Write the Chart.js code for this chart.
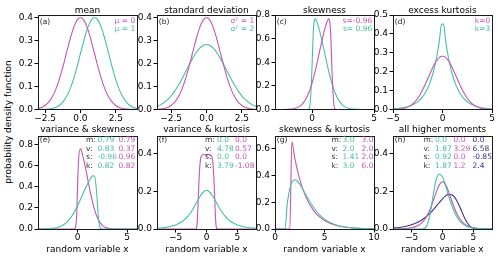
<!DOCTYPE html>
<html>
<head>
<meta charset="utf-8">
<script src="https://cdn.jsdelivr.net/npm/chart.js@4.4.0/dist/chart.umd.min.js"></script>
<style>
  body { margin: 0; width: 500px; height: 256px; overflow: hidden; position: relative; background: #fff; font-family: 'DejaVu Sans'; }
  canvas { position: absolute; }
  #ylab { position: absolute; left: -92px; top: 115px; width: 200px; height: 14px; line-height: 14px;
          text-align: center; font-size: 9px; color: #000; transform: rotate(-90deg); }
</style>
</head>
<body>
<div id="ylab">probability density function</div>
<script>
'use strict';
// ---------------------- Colours -----------------
const MAGENTA = '#c653b6';
const TEAL = '#45c0a3';
const BLUE = '#3c2f96';

// ---------------------- Data: (a) mean -----------------
const meanX = [-3, -2.75, -2.5, -2.25, -2, -1.75, -1.5, -1.25, -1, -0.75, -0.5, -0.25, 0, 0.25, 0.5, 0.75, 1, 1.25, 1.5, 1.75, 2, 2.25, 2.5, 2.75, 3, 3.25, 3.5, 3.75, 4];
const meanMu0 = [0.0044, 0.0091, 0.0175, 0.0317, 0.054, 0.0863, 0.1295, 0.1826, 0.242, 0.3011, 0.3521, 0.3867, 0.3989, 0.3867, 0.3521, 0.3011, 0.242, 0.1826, 0.1295, 0.0863, 0.054, 0.0317, 0.0175, 0.0091, 0.0044, 0.002, 0.0009, 0.0004, 0.0001];
const meanMu1 = [0.0001, 0.0004, 0.0009, 0.002, 0.0044, 0.0091, 0.0175, 0.0317, 0.054, 0.0863, 0.1295, 0.1826, 0.242, 0.3011, 0.3521, 0.3867, 0.3989, 0.3867, 0.3521, 0.3011, 0.242, 0.1826, 0.1295, 0.0863, 0.054, 0.0317, 0.0175, 0.0091, 0.0044];

// ---------------------- Data: (b) standard deviation -----------------
const stdX = [-3.5, -3.25, -3, -2.75, -2.5, -2.25, -2, -1.75, -1.5, -1.25, -1, -0.75, -0.5, -0.25, 0, 0.25, 0.5, 0.75, 1, 1.25, 1.5, 1.75, 2, 2.25, 2.5, 2.75, 3, 3.25, 3.5];
const stdVar1 = [0.0009, 0.002, 0.0044, 0.0091, 0.0175, 0.0317, 0.054, 0.0863, 0.1295, 0.1826, 0.242, 0.3011, 0.3521, 0.3867, 0.3989, 0.3867, 0.3521, 0.3011, 0.242, 0.1826, 0.1295, 0.0863, 0.054, 0.0317, 0.0175, 0.0091, 0.0044, 0.002, 0.0009];
const stdVar2 = [0.0132, 0.0201, 0.0297, 0.0426, 0.0591, 0.0796, 0.1038, 0.1312, 0.1607, 0.1909, 0.2197, 0.2451, 0.265, 0.2777, 0.2821, 0.2777, 0.265, 0.2451, 0.2197, 0.1909, 0.1607, 0.1312, 0.1038, 0.0796, 0.0591, 0.0426, 0.0297, 0.0201, 0.0132];

// ---------------------- Data: (c) skewness -----------------
const skewPosX = [-3, -0.3878, -0.2245, -0.0612, 0.102, 0.2653, 0.4286, 0.5918, 0.7551, 0.9184, 1.0816, 1.2449, 1.4082, 1.5714, 1.7347, 1.898, 2.0612, 2.2245, 2.3878, 2.551, 2.7143, 2.8776, 3.0408, 3.2041, 3.3673, 3.5306, 3.6939, 4, 5];
const skewPos = [0, 0, 0.0097, 0.2153, 0.6716, 0.7669, 0.7278, 0.6694, 0.6, 0.5233, 0.4445, 0.3677, 0.296, 0.2321, 0.1772, 0.1317, 0.0953, 0.0672, 0.0461, 0.0308, 0.02, 0.0127, 0.0078, 0.0047, 0.0028, 0.0016, 0.0009, 0.0002, 0];
const skewNegX = [-3, -2.413, -2.107, -1.943, -1.78, -1.617, -1.454, -1.29, -1.127, -0.964, -0.801, -0.637, -0.474, -0.311, -0.148, 0.016, 0.179, 0.342, 0.506, 0.669, 0.832, 0.995, 1.159, 1.322, 1.485, 1.648, 1.812, 1.975, 5];
const skewNeg = [0, 0.0002, 0.0009, 0.0016, 0.0028, 0.0047, 0.0078, 0.0127, 0.02, 0.0308, 0.0461, 0.0672, 0.0953, 0.1317, 0.1772, 0.2321, 0.296, 0.3677, 0.4445, 0.5233, 0.6, 0.6694, 0.7278, 0.7669, 0.6716, 0.2153, 0.0097, 0, 0];

// ---------------------- Data: (d) excess kurtosis -----------------
const kurtX = [-5, -4.592, -4.184, -3.776, -3.367, -2.959, -2.551, -2.143, -1.735, -1.327, -0.918, -0.714, -0.51, -0.306, -0.102, 0.102, 0.306, 0.51, 0.714, 0.918, 1.327, 1.735, 2.143, 2.551, 2.959, 3.367, 3.776, 4.184, 4.592, 5];
const kurt0 = [0.0005, 0.0014, 0.0036, 0.008, 0.0166, 0.0316, 0.0554, 0.0895, 0.1331, 0.1817, 0.2285, 0.2484, 0.2643, 0.2756, 0.2814, 0.2814, 0.2756, 0.2643, 0.2484, 0.2285, 0.1817, 0.1331, 0.0895, 0.0554, 0.0316, 0.0166, 0.008, 0.0036, 0.0014, 0.0005];
const kurt3 = [0.0034, 0.0051, 0.0076, 0.0115, 0.0172, 0.0259, 0.039, 0.0587, 0.0882, 0.1327, 0.1997, 0.2449, 0.3002, 0.3682, 0.4515, 0.4515, 0.3682, 0.3002, 0.2449, 0.1997, 0.1327, 0.0882, 0.0587, 0.039, 0.0259, 0.0172, 0.0115, 0.0076, 0.0051, 0.0034];

// ---------------------- Data: (e) variance & skewness -----------------
const vsTealX = [-4, -3.5918, -3.1837, -2.7755, -2.3673, -1.9592, -1.551, -1.3469, -1.1429, -0.9388, -0.7347, -0.5306, -0.3265, -0.1224, 0.0816, 0.2857, 0.4898, 0.6939, 0.898, 1.102, 1.3061, 1.5102, 1.7143, 1.9184, 2.1224, 2.3265, 2.5306, 6];
const vsTeal = [0.0002, 0.0005, 0.0014, 0.0035, 0.008, 0.0169, 0.0334, 0.0455, 0.061, 0.0801, 0.1035, 0.1311, 0.1631, 0.1991, 0.2388, 0.281, 0.3246, 0.3682, 0.4099, 0.4481, 0.4807, 0.5058, 0.5038, 0.3517, 0.0916, 0.0055, 0, 0];
const vsMagX = [-4, -0.3265, -0.1224, 0.0816, 0.2857, 0.4898, 0.6939, 0.898, 1.102, 1.3061, 1.5102, 1.7143, 1.9184, 2.1224, 2.3265, 2.5306, 2.7347, 2.9388, 3.1429, 3.3469, 3.551, 3.7551, 3.9592, 6];
const vsMag = [0, 0, 0.0875, 0.6304, 0.7642, 0.7076, 0.6271, 0.5331, 0.4347, 0.34, 0.2551, 0.1836, 0.1267, 0.0839, 0.0533, 0.0325, 0.019, 0.0106, 0.0057, 0.0029, 0.0015, 0.0007, 0.0003, 0];
const vsTable = { teal: ['0.79', '0.83', '-0.96', '0.82'], magenta: ['0.79', '0.37', '0.96', '0.82'] };

// ---------------------- Data: (f) variance & kurtosis -----------------
const vkTealX = [-8, -7, -6, -5, -4, -3.5, -3, -2.5, -2, -1.5, -1, -0.5, 0, 0.5, 1, 1.5, 2, 2.5, 3, 3.5, 4, 5, 6, 7, 8];
const vkTeal = [0.004, 0.007, 0.012, 0.021, 0.038, 0.051, 0.068, 0.09, 0.117, 0.147, 0.175, 0.196, 0.205, 0.196, 0.175, 0.147, 0.117, 0.09, 0.068, 0.051, 0.038, 0.021, 0.012, 0.007, 0.004];
const vkMagX = [-8, -2, -1.7, -1.6, -1.5, -1.4, -1.3, -1.2, -1.1, -1, -0.9, -0.8, -0.6, -0.4, 0, 0.4, 0.6, 0.8, 0.9, 1, 1.1, 1.2, 1.3, 1.4, 1.5, 1.6, 1.7, 2, 8];
const vkMag = [0, 0, 0.0006, 0.0073, 0.0366, 0.1002, 0.1842, 0.2646, 0.3233, 0.3595, 0.379, 0.3883, 0.3938, 0.3944, 0.3944, 0.3944, 0.3938, 0.3883, 0.379, 0.3595, 0.3233, 0.2646, 0.1842, 0.1002, 0.0366, 0.0073, 0.0006, 0, 0];
const vkTable = { teal: ['0.0', '4.78', '0.0', '3.79'], magenta: ['0.0', '0.57', '0.0', '-1.08'] };

// ---------------------- Data: (g) skewness & kurtosis -----------------
const skTealX = [0, 1, 1.25, 1.5, 1.75, 2, 2.25, 2.5, 3, 3.5, 4, 4.5, 5, 5.5, 6, 6.5, 7, 8, 9, 10];
const skTeal = [0, 0, 0.1947, 0.3033, 0.3543, 0.3679, 0.3581, 0.3347, 0.2707, 0.2052, 0.1494, 0.1057, 0.0733, 0.05, 0.0337, 0.0225, 0.0149, 0.0064, 0.0027, 0.0011];
const skMagX = [0, 1.5, 1.7, 2, 2.5, 3, 3.5, 4, 4.5, 5, 5.5, 6, 6.5, 7, 8, 9, 10];
const skMag = [0, 0, 0.6524, 0.5276, 0.3705, 0.2601, 0.1826, 0.1282, 0.0901, 0.0632, 0.0444, 0.0312, 0.0219, 0.0154, 0.0076, 0.0037, 0.0018];
const skTable = { teal: ['3.0', '2.0', '1.41', '3.0'], magenta: ['3.0', '2.0', '2.0', '6.0'] };

// ---------------------- Data: (h) all higher moments -----------------
const hmTealX = [-8, -3.5, -3, -2.5, -2, -1.5, -1, -0.5, 0, 0.5, 1, 1.5, 2, 2.5, 3, 4, 5, 6, 8];
const hmTeal = [0, 0, 0.002, 0.02, 0.08, 0.18, 0.265, 0.29, 0.275, 0.23, 0.175, 0.125, 0.085, 0.055, 0.035, 0.013, 0.005, 0.002, 0];
const hmMagX = [-8, -7, -6, -5, -4, -3.5, -3, -2.5, -2, -1.5, -1, -0.5, 0, 0.5, 1, 1.5, 2, 2.5, 3, 3.5, 4, 5, 6, 7, 8];
const hmMag = [0.0003, 0.0009, 0.0025, 0.0066, 0.0177, 0.0285, 0.0452, 0.0701, 0.105, 0.1491, 0.1966, 0.235, 0.25, 0.235, 0.1966, 0.1491, 0.105, 0.0701, 0.0452, 0.0285, 0.0177, 0.0066, 0.0025, 0.0009, 0.0003];
const hmBlueX = [-8, -7, -6, -5, -4, -3, -2, -1.5, -1, -0.5, 0, 0.5, 1, 1.5, 2, 2.5, 3, 3.5, 4, 4.5, 5, 5.5, 6, 7, 8];
const hmBlue = [0.0051, 0.0083, 0.0136, 0.022, 0.0352, 0.0553, 0.084, 0.1017, 0.1212, 0.1412, 0.1601, 0.1753, 0.1834, 0.1811, 0.1659, 0.1381, 0.1016, 0.0639, 0.0328, 0.0129, 0.0037, 0.0007, 0.0001, 0, 0];
const hmTable = { teal: ['0.0', '1.87', '0.92', '1.87'], magenta: ['0.0', '3.29', '0.0', '1.2'], blue: ['0.0', '6.58', '-0.85', '2.4'] };

const momentLabels = ['m:', 'v:', 's:', 'k:'];

// ---------------------- Tick labels -----------------
const ticksPm25 = [-2.5, 0, 2.5];
const labelsPm25 = ['\u22122.5', '0.0', '2.5'];
const ticks05 = [0, 5];
const labels05 = ['0', '5'];
const ticksPm5 = [-5, 0, 5];
const labelsPm5 = ['\u22125', '0', '5'];
const ticks010 = [0, 5, 10];
const labels010 = ['0', '5', '10'];
const yTicksTenth4 = [0, 0.1, 0.2, 0.3, 0.4];
const yLabelsTenth4 = ['0.0', '0.1', '0.2', '0.3', '0.4'];
const yTicksTenth5 = [0, 0.1, 0.2, 0.3, 0.4, 0.5];
const yLabelsTenth5 = ['0.0', '0.1', '0.2', '0.3', '0.4', '0.5'];
const yTicksFifth8 = [0, 0.2, 0.4, 0.6, 0.8];
const yLabelsFifth8 = ['0.0', '0.2', '0.4', '0.6', '0.8'];
const yTicksFifth6 = [0, 0.2, 0.4, 0.6];
const yLabelsFifth6 = ['0.0', '0.2', '0.4', '0.6'];
const yTicksFifth4 = [0, 0.2, 0.4];
const yLabelsFifth4 = ['0.0', '0.2', '0.4'];

// ---------------------- Layout -----------------
const FONT = 'DejaVu Sans';
const Y_AXIS_W = 36;
const PLOT_W = 99;
const PAD_RIGHT = 8;
const TOP_ROW = { canvasTop: 0, padTop: 15, h: 94.5, canvasH: 137, titleDy: -2.5, letterDy: 7 };
const BOTTOM_ROW = { canvasTop: 121, padTop: 15.5, h: 92.5, canvasH: 135, titleDy: -5, letterDy: 4 };
const decor = {};

function line(xs, ys, color) {
  return { xs: xs, ys: ys, color: color };
}

const panels = [
  { id: 'a', left: 38, row: TOP_ROW, xMin: -3, xMax: 4, yMax: 0.41, xt: ticksPm25, xl: labelsPm25, yt: yTicksTenth4, yl: yLabelsTenth4,
    title: 'mean', letter: '(a)', legend: [['\u03bc = 0', MAGENTA], ['\u03bc = 1', TEAL]],
    lines: [line(meanX, meanMu0, MAGENTA), line(meanX, meanMu1, TEAL)] },
  { id: 'b', left: 157, row: TOP_ROW, xMin: -3.5, xMax: 3.5, yMax: 0.41, xt: ticksPm25, xl: labelsPm25, yt: yTicksTenth4, yl: yLabelsTenth4,
    title: 'standard deviation', letter: '(b)', legend: [['\u03c3\u00b2 = 1', MAGENTA], ['\u03c3\u00b2 = 2', TEAL]],
    lines: [line(stdX, stdVar1, MAGENTA), line(stdX, stdVar2, TEAL)] },
  { id: 'c', left: 275, row: TOP_ROW, xMin: -3, xMax: 5, yMax: 0.8, xt: ticks05, xl: labels05, yt: yTicksFifth8, yl: yLabelsFifth8,
    title: 'skewness', letter: '(c)', legend: [['s=-0.96', MAGENTA], ['s= 0.96', TEAL]],
    lines: [line(skewNegX, skewNeg, MAGENTA), line(skewPosX, skewPos, TEAL)] },
  { id: 'd', left: 393, row: TOP_ROW, xMin: -5, xMax: 5, yMax: 0.5, xt: ticksPm5, xl: labelsPm5, yt: yTicksTenth5, yl: yLabelsTenth5,
    title: 'excess kurtosis', letter: '(d)', legend: [['k=0', MAGENTA], ['k=3', TEAL]],
    lines: [line(kurtX, kurt0, MAGENTA), line(kurtX, kurt3, TEAL)] },
  { id: 'e', left: 38, row: BOTTOM_ROW, xMin: -4, xMax: 6, yMax: 0.88, xt: ticks05, xl: labels05, yt: yTicksFifth8, yl: yLabelsFifth8,
    title: 'variance & skewness', letter: '(e)', xlabel: true,
    table: { labelX: 48, cols: [[59.5, TEAL, vsTable.teal], [80.5, MAGENTA, vsTable.magenta]] },
    lines: [line(vsTealX, vsTeal, TEAL), line(vsMagX, vsMag, MAGENTA)] },
  { id: 'f', left: 157, row: BOTTOM_ROW, xMin: -8, xMax: 8, yMax: 0.49, xt: ticksPm5, xl: labelsPm5, yt: yTicksFifth4, yl: yLabelsFifth4,
    title: 'variance & kurtosis', letter: '(f)', xlabel: true,
    table: { labelX: 48, cols: [[60, TEAL, vkTable.teal], [78, MAGENTA, vkTable.magenta]] },
    lines: [line(vkTealX, vkTeal, TEAL), line(vkMagX, vkMag, MAGENTA)] },
  { id: 'g', left: 275, row: BOTTOM_ROW, xMin: 0, xMax: 10, yMax: 0.69, xt: ticks010, xl: labels010, yt: yTicksFifth6, yl: yLabelsFifth6,
    title: 'skewness & kurtosis', letter: '(g)', xlabel: true,
    table: { labelX: 56.5, cols: [[67.5, TEAL, skTable.teal], [86.5, MAGENTA, skTable.magenta]] },
    lines: [line(skTealX, skTeal, TEAL), line(skMagX, skMag, MAGENTA)] },
  { id: 'h', left: 393, row: BOTTOM_ROW, xMin: -8, xMax: 8, yMax: 0.49, xt: ticksPm5, xl: labelsPm5, yt: yTicksFifth4, yl: yLabelsFifth4,
    title: 'all higher moments', letter: '(h)', xlabel: true,
    table: { labelX: 30.5, cols: [[42, TEAL, hmTable.teal], [60.5, MAGENTA, hmTable.magenta], [79.5, BLUE, hmTable.blue]] },
    lines: [line(hmTealX, hmTeal, TEAL), line(hmMagX, hmMag, MAGENTA), line(hmBlueX, hmBlue, BLUE)] }
];

// ---------------------- Plugin: frame and texts -----------------
const decorPlugin = {
  id: 'decor',
  afterDraw(chart) {
    const p = decor[chart.canvas.id];
    const ctx = chart.ctx;
    const a = chart.chartArea;
    ctx.save();
    ctx.strokeStyle = '#1a1a1a';
    ctx.lineWidth = 1;
    const l = Math.floor(a.left) + 0.5, t = Math.floor(a.top) + 0.5;
    const r = Math.floor(a.right) + 0.5, b = Math.floor(a.bottom) + 0.5;
    ctx.strokeRect(l, t, r - l, b - t);

    ctx.fillStyle = '#000';
    ctx.font = '9px "' + FONT + '"';
    ctx.textAlign = 'center';
    ctx.textBaseline = 'alphabetic';
    ctx.fillText(p.title, (a.left + a.right) / 2, a.top + p.row.titleDy);
    if (p.xlabel) {
      ctx.fillText('random variable x', (a.left + a.right) / 2, a.bottom + 22.5);
    }

    ctx.font = '7.5px "' + FONT + '"';
    ctx.textBaseline = 'middle';
    ctx.textAlign = 'left';
    ctx.fillStyle = '#222';
    ctx.fillText(p.letter, a.left + 1.8, a.top + p.row.letterDy);

    if (p.legend) {
      ctx.textAlign = 'right';
      p.legend.forEach(function (item, i) {
        ctx.fillStyle = item[1];
        ctx.fillText(item[0], a.right - 1.8, a.top + 6.5 + i * 7.6);
      });
    }
    if (p.table) {
      ctx.textAlign = 'left';
      for (let i = 0; i < momentLabels.length; i++) {
        const y = a.top + 3.8 + i * 8.5;
        ctx.fillStyle = '#333';
        ctx.fillText(momentLabels[i], a.left + p.table.labelX, y);
        for (const col of p.table.cols) {
          ctx.fillStyle = col[1];
          ctx.fillText(col[2][i], a.left + col[0], y);
        }
      }
    }
    ctx.restore();
  }
};

// ---------------------- Build charts -----------------
function zip(xs, ys) {
  const out = [];
  for (let i = 0; i < xs.length; i++) {
    out.push({ x: xs[i], y: ys[i] });
  }
  return out;
}

function axis(min, max, ticks, labels, isX, size) {
  return {
    type: 'linear',
    min: min,
    max: max,
    afterFit: function (scale) {
      if (isX) { scale.height = size; } else { scale.width = size; }
    },
    afterBuildTicks: function (scale) {
      scale.ticks = ticks.map(v => ({ value: v }));
    },
    ticks: {
      autoSkip: false,
      maxRotation: 0,
      padding: isX ? 0 : 1.5,
      color: '#000',
      font: { family: FONT, size: 9 },
      callback: function (value) {
        const idx = ticks.indexOf(value);
        return idx >= 0 ? labels[idx] : '';
      }
    },
    grid: { drawOnChartArea: false, drawTicks: true, tickLength: 3.5, tickColor: '#000', tickWidth: 1 },
    border: { display: false }
  };
}

function makePanel(p) {
  const canvas = document.createElement('canvas');
  canvas.id = 'panel' + p.id;
  canvas.width = Y_AXIS_W + PLOT_W + PAD_RIGHT;
  canvas.height = p.row.canvasH;
  canvas.style.left = (p.left - Y_AXIS_W) + 'px';
  canvas.style.top = p.row.canvasTop + 'px';
  document.body.appendChild(canvas);
  decor[canvas.id] = p;
  const xAxisH = p.row.canvasH - p.row.padTop - p.row.h;
  new Chart(canvas.getContext('2d'), {
    type: 'line',
    data: {
      datasets: p.lines.map(l => ({
        data: zip(l.xs, l.ys),
        borderColor: l.color,
        borderWidth: 1.1,
        pointRadius: 0,
        fill: false,
        cubicInterpolationMode: 'monotone'
      }))
    },
    options: {
      responsive: false,
      animation: false,
      devicePixelRatio: 1,
      layout: { padding: { top: p.row.padTop, right: PAD_RIGHT, left: 0, bottom: 0 } },
      plugins: { legend: { display: false }, tooltip: { enabled: false } },
      scales: {
        x: axis(p.xMin, p.xMax, p.xt, p.xl, true, xAxisH),
        y: axis(0, p.yMax, p.yt, p.yl, false, Y_AXIS_W)
      }
    },
    plugins: [decorPlugin]
  });
}

for (const p of panels) {
  makePanel(p);
}
</script>
</body>
</html>
